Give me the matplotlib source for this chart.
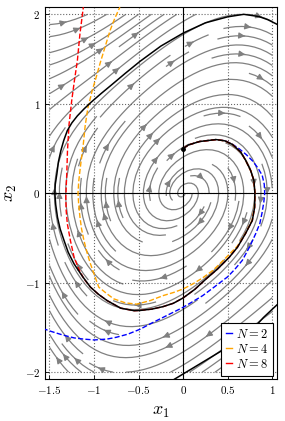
import numpy as np
import matplotlib.pyplot as plt

plt.rcParams['mathtext.fontset'] = 'cm'
plt.rcParams['font.family'] = 'serif'

#-----------------------------------------------------------------------------------------------------------------------
# data

# vector field parameter (van der Pol type system)
mu = 0.6

x_ticks = [-1.5, -1, -0.5, 0, 0.5, 1]
x_tick_labels = ['$-1.5$', '$-1$', '$-0.5$', '$0$', '$0.5$', '$1$']
y_ticks = [-2, -1, 0, 1, 2]
y_tick_labels = ['$-2$', '$-1$', '$0$', '$1$', '$2$']

start = (0.0, 0.5)

# reference trajectory (black), first lap
traj_x = [0, 0.06, 0.183, 0.369, 0.47, 0.553, 0.647, 0.70, 0.757, 0.794, 0.805, 0.802, 0.776,
          0.70, 0.609, 0.517, 0.387, 0.257, 0.13, 0, -0.11, -0.224, -0.35, -0.483, -0.55, -0.7,
          -0.853, -0.95, -1.04, -1.13, -1.224, -1.29, -1.336, -1.38, -1.41, -1.43, -1.44, -1.435,
          -1.417, -1.40, -1.372, -1.34, -1.30, -1.25, -1.187, -1.11, -1.03, -0.92, -0.817, -0.65,
          -0.483, -0.25, 0, 0.25, 0.5, 0.68, 0.85, 0.95, 1.05]
traj_y = [0.5, 0.54, 0.578, 0.60, 0.585, 0.545, 0.459, 0.37, 0.254, 0.142, 0, -0.157, -0.305,
          -0.45, -0.604, -0.716, -0.846, -0.958, -1.075, -1.17, -1.23, -1.267, -1.295, -1.31, -1.313, -1.285,
          -1.2, -1.13, -1.05, -0.93, -0.79, -0.66, -0.53, -0.4, -0.27, -0.13, 0, 0.1,
          0.217, 0.35, 0.478, 0.59, 0.70, 0.785, 0.865, 0.945, 1.02, 1.115, 1.2, 1.34,
          1.475, 1.645, 1.79, 1.905, 1.972, 2.0, 1.975, 1.94, 1.89]
# the same trajectory re-entering at the bottom right
traj2_x = [1.05, 0.9, 0.78, 0.6, 0.4, 0.25, 0.1, -0.1]
traj2_y = [-1.25, -1.39, -1.52, -1.66, -1.78, -1.87, -1.96, -2.08]

# N = 2
n2_x = [0, 0.06, 0.183, 0.369, 0.47, 0.55, 0.628, 0.71, 0.78, 0.84, 0.887, 0.91, 0.915, 0.905,
        0.885, 0.86, 0.813, 0.745, 0.664, 0.58, 0.498, 0.36, 0.22, 0.11, 0, -0.13, -0.26, -0.37,
        -0.483, -0.62, -0.75, -0.853, -1.0, -1.12, -1.224, -1.35, -1.483, -1.55]
n2_y = [0.5, 0.54, 0.578, 0.60, 0.587, 0.55, 0.497, 0.43, 0.36, 0.28, 0.2, 0.1, 0, -0.1,
        -0.22, -0.34, -0.454, -0.6, -0.75, -0.85, -0.935, -1.04, -1.144, -1.21, -1.275, -1.34, -1.405, -1.46,
        -1.52, -1.575, -1.61, -1.63, -1.64, -1.63, -1.617, -1.585, -1.544, -1.52]

# N = 4
n4_x = [0, 0.06, 0.183, 0.369, 0.47, 0.553, 0.647, 0.70, 0.757, 0.794, 0.805, 0.80, 0.772,
        0.70, 0.609, 0.5, 0.40, 0.33, 0.22, 0.11, 0, -0.11, -0.224, -0.37, -0.52, -0.65, -0.78,
        -0.86, -0.947, -0.99, -1.04, -1.08, -1.113, -1.14, -1.158, -1.172, -1.18, -1.172, -1.158,
        -1.14, -1.12, -1.10, -1.07, -1.02, -0.975, -0.93, -0.875, -0.82, -0.765, -0.71]
n4_y = [0.5, 0.54, 0.578, 0.60, 0.585, 0.545, 0.459, 0.37, 0.254, 0.142, 0, -0.157, -0.305,
        -0.445, -0.59, -0.70, -0.80, -0.865, -0.945, -1.013, -1.07, -1.11, -1.144, -1.2, -1.24, -1.225, -1.18,
        -1.12, -1.05, -0.93, -0.79, -0.66, -0.53, -0.4, -0.268, -0.13, 0, 0.13, 0.254,
        0.4, 0.553, 0.75, 0.95, 1.15, 1.3, 1.46, 1.64, 1.82, 1.96, 2.08]

# N = 8
n8_x = [0, 0.06, 0.183, 0.369, 0.47, 0.553, 0.647, 0.70, 0.757, 0.794, 0.805, 0.802, 0.776,
        0.70, 0.609, 0.517, 0.387, 0.257, 0.13, 0, -0.11, -0.224, -0.35, -0.483, -0.55, -0.7,
        -0.853, -0.95, -1.04, -1.113, -1.17, -1.224, -1.265, -1.30, -1.313, -1.317, -1.312, -1.306,
        -1.298, -1.28, -1.25, -1.22, -1.187, -1.158, -1.12]
n8_y = [0.5, 0.54, 0.578, 0.60, 0.585, 0.545, 0.459, 0.37, 0.254, 0.142, 0, -0.157, -0.305,
        -0.45, -0.604, -0.716, -0.846, -0.958, -1.075, -1.17, -1.23, -1.267, -1.295, -1.31, -1.313, -1.285,
        -1.2, -1.13, -1.05, -0.958, -0.85, -0.716, -0.53, -0.34, -0.19, -0.045, 0.08, 0.217,
        0.478, 0.776, 1.04, 1.26, 1.484, 1.783, 2.08]

#-----------------------------------------------------------------------------------------------------------------------
# plot

fig = plt.figure(figsize=(2.85, 4.21), dpi=100)
ax = fig.add_axes([0.158, 0.099, 0.813, 0.884])

# streamlines of the vector field
X1, X2 = np.meshgrid(np.linspace(-1.5, 1, 60), np.linspace(-2, 2, 90))
U = X2
V = -X1 + mu * (1 - X1**2) * X2
ax.streamplot(X1, X2, U, V, color='gray', linewidth=0.9, density=1.2,
              arrowsize=0.9, arrowstyle='-|>', zorder=1)

ax.axhline(0, color='black', lw=0.8, zorder=2)
ax.axvline(0, color='black', lw=0.8, zorder=2)

ax.plot(traj_x, traj_y, color='black', lw=1.1, zorder=4)
ax.plot(traj2_x, traj2_y, color='black', lw=1.1, zorder=4)
ax.plot(n2_x, n2_y, '--', color='blue', lw=1.0, label='$N=2$', zorder=3)
ax.plot(n4_x, n4_y, '--', color='orange', lw=1.0, label='$N=4$', zorder=3)
ax.plot(n8_x, n8_y, '--', color='red', lw=1.0, label='$N=8$', zorder=3)
ax.plot(*start, 'o', color='black', ms=2.5, zorder=5)

ax.set_xlim(-1.55, 1.05)
ax.set_ylim(-2.08, 2.08)
ax.set_xticks(x_ticks)
ax.set_xticklabels(x_tick_labels)
ax.set_yticks(y_ticks)
ax.set_yticklabels(y_tick_labels)
ax.tick_params(direction='in', labelsize=8, length=3, width=0.6)
ax.grid(True, linestyle=':', color='dimgray', lw=0.8)
for s in ax.spines.values():
    s.set_linewidth(0.8)

ax.set_xlabel('$x_1$', fontsize=13, labelpad=4)
ax.set_ylabel('$x_2$', fontsize=13, labelpad=4)

leg = ax.legend(loc='lower right', handlelength=0.5, handletextpad=0.3, fontsize=9,
                fancybox=False, edgecolor='black', framealpha=1, borderpad=0.4,
                labelspacing=0.15, borderaxespad=0.3)
for h in leg.get_lines():
    h.set_linestyle('-')
leg.get_frame().set_linewidth(0.8)

plt.savefig('out.png', dpi=100)
